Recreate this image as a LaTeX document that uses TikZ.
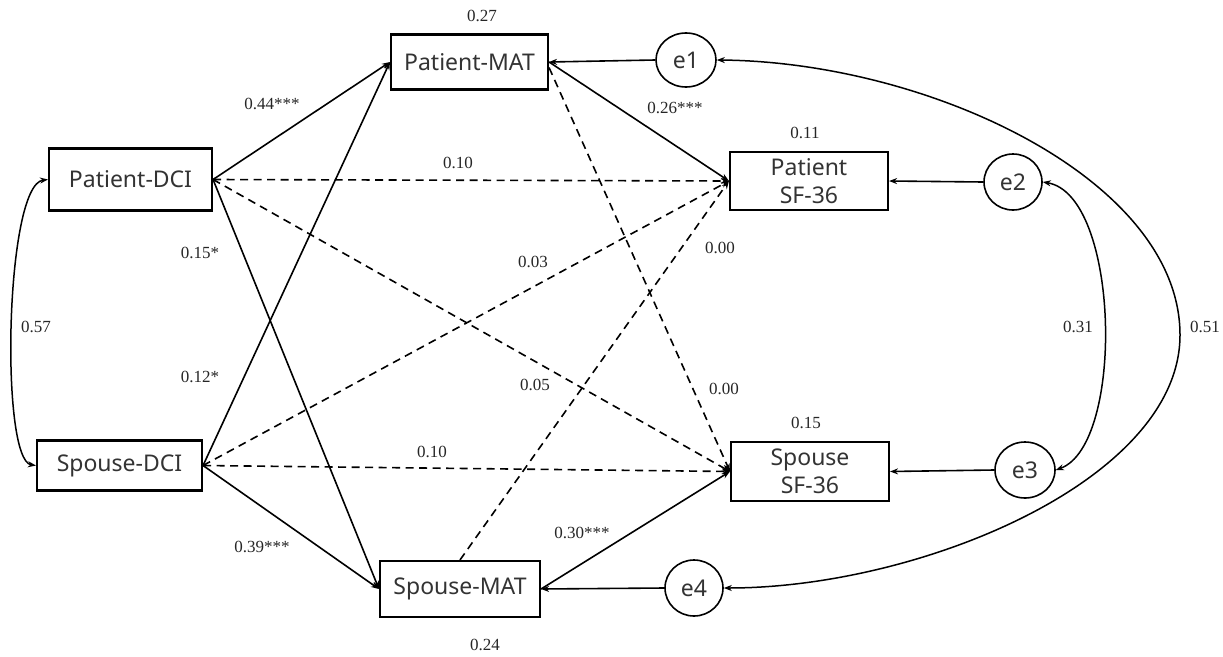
\documentclass[tikz,border=0pt]{standalone}
\usepackage{fontspec}
\setmainfont{Liberation Serif}
\newfontfamily\boxfont{Noto Sans}
\usetikzlibrary{arrows.meta,shapes.geometric}
\begin{document}
\begin{tikzpicture}[x=1pt,y=-1pt,
  var/.style={draw,line width=2.1pt,font=\boxfont\fontsize{23}{28}\selectfont,
    text=black!80,align=center,inner sep=0pt},
  err/.style={draw,ellipse,line width=1.6pt,font=\boxfont\fontsize{23}{28}\selectfont,
    text=black!80,inner sep=0pt,minimum width=59pt,minimum height=55pt},
  coef/.style={font=\fontsize{17}{20}\selectfont,text=black!85,inner sep=0pt},
  tip/.style={-{Stealth[length=8pt,width=6pt]}},
  solidpath/.style={line width=1.6pt,tip},
  dashpath/.style={line width=1.6pt,tip,dash pattern=on 8pt off 5.5pt},
  covpath/.style={line width=1.5pt,{Stealth[length=8pt,width=6pt]}-{Stealth[length=8pt,width=6pt]}}
]
\useasboundingbox (0,0) rectangle (1223,656);

% observed variables
\node[var,minimum width=163pt,minimum height=62pt] (pdci) at (130.5,179.5) {Patient-DCI};
\node[var,minimum width=165pt,minimum height=50pt] (sdci) at (119.5,465.5) {Spouse-DCI};
\node[var,minimum width=157pt,minimum height=55pt] (pmat) at (469.5,62) {Patient-MAT};
\node[var,minimum width=160pt,minimum height=56pt] (smat) at (460,589) {Spouse-MAT};
\node[var,minimum width=158pt,minimum height=58pt] (psf) at (809,181) {Patient\\SF-36};
\node[var,minimum width=158pt,minimum height=59pt] (ssf) at (810,471.5) {Spouse\\SF-36};

% error terms
\node[err,minimum width=60pt,minimum height=54pt] (e1) at (686,60) {e1};
\node[err,minimum width=58pt,minimum height=56pt] (e2) at (1013,182) {e2};
\node[err,minimum width=60pt,minimum height=56pt] (e3) at (1025,470) {e3};
\node[err,minimum width=58pt,minimum height=56pt] (e4) at (694,588) {e4};

% paths from DCI to MAT
\draw[solidpath] (pdci.east) -- (pmat.west);
\draw[solidpath] (pdci.east) -- (smat.west);
\draw[solidpath] (sdci.east) -- (pmat.west);
\draw[solidpath] (sdci.east) -- (smat.west);

% direct paths from DCI to SF-36
\draw[dashpath] (pdci.east) -- (psf.west);
\draw[dashpath] (pdci.east) -- (ssf.west);
\draw[dashpath] (sdci.east) -- (psf.west);
\draw[dashpath] (sdci.east) -- (ssf.west);

% paths from MAT to SF-36
\draw[solidpath] (pmat.east) -- (psf.west);
\draw[dashpath] (pmat.-4) -- (ssf.west);
\draw[dashpath] (smat.north) -- (psf.west);
\draw[solidpath] (smat.east) -- (ssf.west);

% error terms
\draw[solidpath] (e1.west) -- (pmat.east);
\draw[solidpath] (e2.west) -- (psf.east);
\draw[solidpath] (e3.west) -- (ssf.east);
\draw[solidpath] (e4.west) -- (smat.east);

% covariances
\draw[covpath] (pdci.west) .. controls (5,185) and (0,460) .. (sdci.west);
\draw[covpath] (e2.east) .. controls (1120,195) and (1125,445) .. (e3.east);
\draw[line width=1.5pt,{Stealth[length=8pt,width=6pt]}-] (e1.east) .. controls (930,62) and (1180,180) .. (1180,335) coordinate (far);
\draw[line width=1.5pt,-{Stealth[length=8pt,width=6pt]}] (far) .. controls (1180,480) and (920,588) .. (e4.east);

% coefficients
\node[coef] (r27) at (482,16) {0.27};
\node[coef] (r11) at (805,133) {0.11};
\node[coef] (r15) at (806,423) {0.15};
\node[coef] (r24) at (485,645) {0.24};
\node[coef] (c44) at (272,104) {0.44***};
\node[coef] (c26) at (675,108) {0.26***};
\node[coef] (c10a) at (458,163) {0.10};
\node[coef] (c15) at (200,253) {0.15*};
\node[coef] (c12) at (200,377) {0.12*};
\node[coef] (c03) at (533,262) {0.03};
\node[coef] (c00a) at (720,248) {0.00};
\node[coef] (c05) at (535,385) {0.05};
\node[coef] (c00b) at (724,389) {0.00};
\node[coef] (c57) at (36,327) {0.57};
\node[coef] (c10b) at (432,452) {0.10};
\node[coef] (c39) at (262,547) {0.39***};
\node[coef] (c30) at (582,533) {0.30***};
\node[coef] (c31) at (1078,327) {0.31};
\node[coef] (c51) at (1205,327) {0.51};
\end{tikzpicture}
\end{document}
